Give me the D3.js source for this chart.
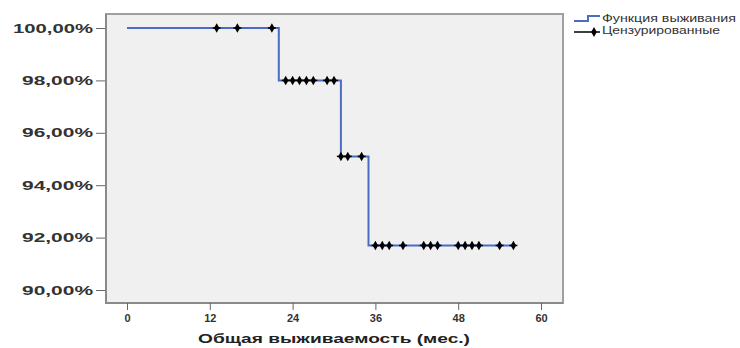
<!DOCTYPE html>
<html>
<head>
<meta charset="utf-8">
<script src="https://cdn.jsdelivr.net/npm/d3@7"></script>
<style>
 body { margin: 0; background: #fff; }
 text { font-family: "Liberation Sans", Arial, sans-serif; }
</style>
</head>
<body>
<svg width="740" height="348"></svg>
<script>
// step function (Kaplan-Meier)
var stepTimes = [0, 22, 31, 35, 56];
var stepSurv = [100, 98, 95.1, 91.7, 91.7];

// censored observations
var censorTimes = [13, 16, 21, 23, 24, 25, 26, 27, 29, 30, 31, 32, 34,
                   36, 37, 38, 40, 43, 44, 45, 48, 49, 50, 51, 54, 56];
var censorSurv = [100, 100, 100, 98, 98, 98, 98, 98, 98, 98, 95.1, 95.1, 95.1,
                  91.7, 91.7, 91.7, 91.7, 91.7, 91.7, 91.7, 91.7, 91.7, 91.7, 91.7, 91.7, 91.7];

var xTicks = [0, 12, 24, 36, 48, 60];
var yTicks = [90, 92, 94, 96, 98, 100];
var legendLabels = ["Функция выживания", "Цензурированные"];

var svg = d3.select("svg");

var x = d3.scaleLinear().domain([0, 60]).range([127, 541]);
var y = d3.scaleLinear().domain([90, 100]).range([290, 28]);

// plot frame
svg.append("rect")
  .attr("x", 106).attr("y", 14)
  .attr("width", 457).attr("height", 289)
  .attr("fill", "#f0f0f0")
  .attr("stroke", "#a0a0a0")
  .attr("stroke-width", 2);
svg.append("path")
  .attr("d", "M106,14V303H563")
  .attr("fill", "none")
  .attr("stroke", "#8a8a8a")
  .attr("stroke-width", 2);

// y axis
var yAxis = svg.append("g")
  .attr("transform", "translate(105,0)")
  .call(d3.axisLeft(y).tickValues(yTicks).tickSize(9).tickPadding(3)
    .tickFormat(function(d) { return d3.format(".2f")(d).replace(".", ",") + "%"; }));
yAxis.select(".domain").remove();
yAxis.selectAll("line").attr("stroke", "#666");
yAxis.selectAll("text")
  .attr("font-size", 13)
  .attr("font-weight", "bold")
  .attr("fill", "#333")
  .attr("textLength", function(d) { return d === 100 ? 80 : 71; })
  .attr("lengthAdjust", "spacingAndGlyphs");

// x axis
var xAxis = svg.append("g")
  .attr("transform", "translate(0,303)")
  .call(d3.axisBottom(x).tickValues(xTicks).tickSize(7).tickPadding(4));
xAxis.select(".domain").remove();
xAxis.selectAll("line").attr("stroke", "#666");
xAxis.selectAll("text")
  .attr("font-size", 11)
  .attr("font-weight", "bold")
  .attr("fill", "#333");

svg.append("text")
  .attr("x", 334).attr("y", 343)
  .attr("text-anchor", "middle")
  .attr("font-size", 12)
  .attr("font-weight", "bold")
  .attr("fill", "#222")
  .attr("textLength", 272)
  .attr("lengthAdjust", "spacingAndGlyphs")
  .text("Общая выживаемость (мес.)");

// survival line
var line = d3.line()
  .x(function(d, i) { return x(stepTimes[i]); })
  .y(function(d) { return y(d); })
  .curve(d3.curveStepAfter);

svg.append("path")
  .datum(stepSurv)
  .attr("d", line)
  .attr("fill", "none")
  .attr("stroke", "#4a6cc4")
  .attr("stroke-width", 2);

// censored marks
var marks = svg.append("g").selectAll("g")
  .data(censorTimes)
  .enter().append("g")
  .attr("transform", function(d, i) { return "translate(" + x(d) + "," + y(censorSurv[i]) + ")"; });
marks.append("path")
  .attr("d", d3.symbol().type(d3.symbolDiamond).size(26))
  .attr("fill", "#000");
marks.append("line")
  .attr("x1", -4).attr("x2", 4)
  .attr("stroke", "#000").attr("stroke-width", 1.5);

// legend
var lg = svg.append("g").attr("transform", "translate(574,0)");
lg.append("path")
  .attr("d", "M0,21H14V16H26")
  .attr("fill", "none")
  .attr("stroke", "#4a6cc4")
  .attr("stroke-width", 2);
lg.append("line")
  .attr("x1", 0).attr("x2", 26).attr("y1", 32).attr("y2", 32)
  .attr("stroke", "#000").attr("stroke-width", 1.5);
lg.append("path")
  .attr("transform", "translate(20,32)")
  .attr("d", d3.symbol().type(d3.symbolDiamond).size(28))
  .attr("fill", "#000");
lg.selectAll("text.lab")
  .data(legendLabels)
  .enter().append("text")
  .attr("class", "lab")
  .attr("x", 28)
  .attr("y", function(d, i) { return 22 + i * 12; })
  .attr("font-size", 10)
  .attr("fill", "#333")
  .attr("textLength", function(d, i) { return i === 0 ? 134 : 118; })
  .attr("lengthAdjust", "spacingAndGlyphs")
  .text(function(d) { return d; });
</script>
</body>
</html>
